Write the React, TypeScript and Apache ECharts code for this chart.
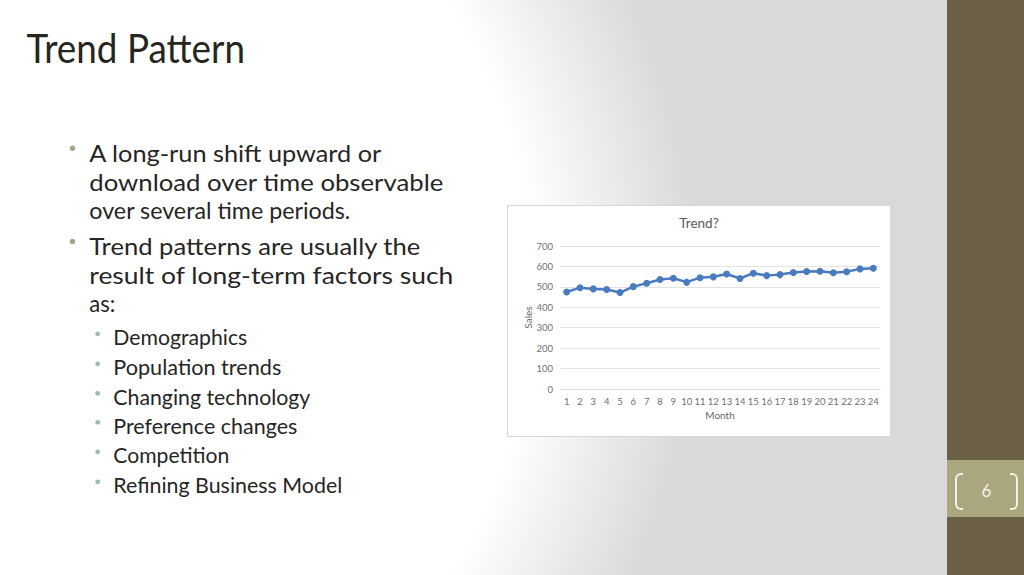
import { useEffect, useRef } from 'react'
import * as echarts from 'echarts'

const months = ['1', '2', '3', '4', '5', '6', '7', '8', '9', '10', '11', '12', '13', '14', '15', '16', '17', '18', '19', '20', '21', '22', '23', '24']
const sales = [475, 496, 490, 487, 472, 501, 518, 536, 542, 523, 545, 549, 563, 541, 567, 555, 560, 570, 575, 576, 569, 574, 588, 591]
const yTicks = { min: 0, max: 700, interval: 100 }

// slide text: [text, baseline y, width]
const bodyLines: [string, number, number][] = [
  ['A long-run shift upward or', 161.7, 292],
  ['download over time observable', 190.5, 354],
  ['over several time periods.', 218.5, 261],
  ['Trend patterns are usually the', 255, 331],
  ['result of long-term factors such', 283.5, 364],
  ['as:', 311.7, 26]
]
const bodyBulletLines = [0, 3]
const subLines: [string, number, number][] = [
  ['Demographics', 345, 134],
  ['Population trends', 375, 168],
  ['Changing technology', 404.5, 197],
  ['Preference changes', 433.5, 184],
  ['Competition', 463, 116],
  ['Refining Business Model', 493, 229]
]

const FONT = 'Lato, "Open Sans", sans-serif'

function TrendChart() {
  const ref = useRef<HTMLDivElement | null>(null)

  useEffect(() => {
    if (!ref.current) return
    const chart = echarts.init(ref.current, undefined, { renderer: 'svg' })
    chart.setOption({
      animation: false,
      backgroundColor: '#ffffff',
      textStyle: { fontFamily: FONT },
      title: {
        text: 'Trend?',
        left: 'center',
        top: 5,
        textStyle: { fontFamily: FONT, fontSize: 13.5, fontWeight: 'normal', color: '#595959' }
      },
      grid: { left: 52, right: 10, top: 40, bottom: 47 },
      xAxis: {
        type: 'category',
        data: months,
        boundaryGap: true,
        name: 'Month',
        nameLocation: 'middle',
        nameGap: 21,
        nameMoveOverlap: false,
        nameTextStyle: { fontFamily: FONT, fontSize: 10, color: '#666666' },
        axisLine: { lineStyle: { color: '#d9d9d9' } },
        axisTick: { show: false },
        axisLabel: { fontFamily: FONT, fontSize: 9.5, color: '#707070', margin: 7, interval: 0 }
      },
      yAxis: {
        type: 'value',
        min: yTicks.min,
        max: yTicks.max,
        interval: yTicks.interval,
        name: 'Sales',
        nameLocation: 'middle',
        nameGap: 27,
        nameMoveOverlap: false,
        nameTextStyle: { fontFamily: FONT, fontSize: 10, color: '#666666' },
        axisLine: { show: false },
        axisTick: { show: false },
        splitLine: { lineStyle: { color: '#e3e3e3', width: 1 } },
        axisLabel: { fontFamily: FONT, fontSize: 9.5, color: '#707070', margin: 7 }
      },
      series: [
        {
          type: 'line',
          data: sales,
          symbol: 'circle',
          symbolSize: 7,
          lineStyle: { color: '#4a7bbf', width: 2.5 },
          itemStyle: { color: '#4a7bbf' }
        }
      ]
    })
    return () => chart.dispose()
  }, [])

  return <div ref={ref} style={{ width: 382, height: 230 }} />
}

export default function App() {
  return (
    <div
      style={{
        position: 'absolute',
        left: 0,
        top: 0,
        width: 1024,
        height: 575,
        overflow: 'hidden',
        background: 'radial-gradient(ellipse 700px 700px at 0px 290px, #ffffff 76%, #d9d9d9 100%)',
        fontFamily: FONT
      }}
    >
      <svg width={1024} height={575} style={{ position: 'absolute', left: 0, top: 0 }}>
        <text x={26.5} y={63} fontSize={40} fill="#262620" fontFamily={FONT} textLength={218.5} lengthAdjust="spacingAndGlyphs">
          Trend Pattern
        </text>
        {bodyBulletLines.map((i) => (
          <circle key={'b' + i} cx={72.5} cy={bodyLines[i][1] - 13.5} r={2.7} fill="#a3a68a" />
        ))}
        {bodyLines.map(([t, y, w]) => (
          <text key={t} x={89.3} y={y} fontSize={23.5} fill="#262626" fontFamily={FONT} textLength={w} lengthAdjust="spacingAndGlyphs">
            {t}
          </text>
        ))}
        {subLines.map(([t, y, w]) => (
          <g key={t}>
            <circle cx={97.7} cy={y - 11.2} r={2.4} fill="#9dbab2" />
            <text x={113.3} y={y} fontSize={20.5} fill="#262626" fontFamily={FONT} textLength={w} lengthAdjust="spacingAndGlyphs">
              {t}
            </text>
          </g>
        ))}
      </svg>

      <div style={{ position: 'absolute', left: 947, top: 0, width: 77, height: 575, background: '#6b5f46' }} />
      <div style={{ position: 'absolute', left: 947, top: 460, width: 77, height: 57, background: '#aaa67e' }} />
      <div
        style={{
          position: 'absolute',
          left: 955,
          top: 473,
          width: 6,
          height: 33,
          border: '2px solid #f4f1e6',
          borderRight: 'none',
          borderRadius: '6px 0 0 6px'
        }}
      />
      <div
        style={{
          position: 'absolute',
          left: 1010,
          top: 473,
          width: 6,
          height: 33,
          border: '2px solid #f4f1e6',
          borderLeft: 'none',
          borderRadius: '0 6px 6px 0'
        }}
      />
      <div
        style={{
          position: 'absolute',
          left: 963,
          top: 479,
          width: 47,
          textAlign: 'center',
          fontSize: 17,
          lineHeight: '24px',
          color: '#f4f1e6',
          fontFamily: FONT
        }}
      >
        6
      </div>

      <div
        style={{
          position: 'absolute',
          left: 507,
          top: 205,
          width: 382,
          height: 230,
          border: '1px solid #d6d6d6',
          background: '#ffffff'
        }}
      >
        <TrendChart />
      </div>
    </div>
  )
}
